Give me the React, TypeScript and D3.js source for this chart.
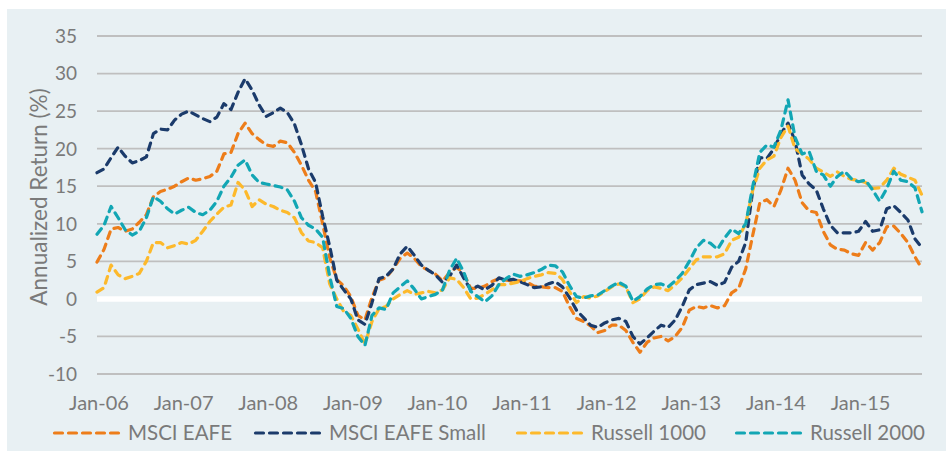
import React from 'react';
import * as d3 from 'd3';

// Month index 0 = Jan-06 ... 117 = Oct-15
const tickLabels = ['Jan-06', 'Jan-07', 'Jan-08', 'Jan-09', 'Jan-10', 'Jan-11', 'Jan-12', 'Jan-13', 'Jan-14', 'Jan-15'];
const yTicks = [-10, -5, 0, 5, 10, 15, 20, 25, 30, 35];

const msciEafe = [
  4.9, 6.6, 9.3, 9.5, 9.0, 9.3, 10.2, 11.2, 13.6, 14.3, 14.6, 15.0,
  15.6, 16.1, 15.8, 16.0, 16.3, 17.0, 19.3, 19.5, 22.0, 23.4, 22.0, 21.2,
  20.5, 20.3, 21.0, 20.8, 19.5, 17.8, 15.8, 14.3, 10.0, 5.5, 2.6, 1.7,
  0.3, -2.2, -2.8, 0.2, 2.5, 2.8, 4.0, 5.4, 6.1, 5.4, 4.3, 3.8,
  3.3, 2.4, 3.5, 4.2, 3.4, 1.4, 1.4, 1.7, 2.3, 2.7, 2.5, 2.4,
  2.4, 2.2, 1.7, 1.6, 1.5, 1.5, 1.0, -1.0, -2.6, -3.0, -3.6, -4.5,
  -4.2, -3.5, -3.5, -4.2, -5.8, -7.1, -5.8, -5.2, -5.0, -5.6, -5.0, -3.8,
  -1.5, -1.0, -1.2, -0.9, -1.2, -0.9, 0.8, 1.4, 4.0, 8.5, 12.8, 13.2,
  12.3, 14.5, 17.4, 15.8, 12.8, 11.7, 11.5, 9.0, 7.2, 6.6, 6.5, 6.0,
  5.8, 7.5, 6.5, 7.5, 9.6, 9.7, 8.7, 7.5, 5.6, 4.0,
];

const msciEafeSmall = [
  16.8, 17.3, 18.8, 20.2, 19.0, 18.1, 18.4, 18.9, 22.0, 22.6, 22.5, 23.8,
  24.6, 25.0, 24.5, 24.0, 23.6, 24.2, 26.0, 25.2, 27.5, 29.3, 27.8, 25.8,
  24.3, 24.8, 25.4, 24.8, 23.3, 20.5, 17.3, 15.5, 11.0, 7.0, 2.5, 1.2,
  0.0, -2.8, -3.4, -0.5, 2.7, 3.0, 4.0, 6.0, 7.0, 5.8, 4.5, 3.8,
  3.2, 2.2, 3.0, 4.5, 2.8, 1.2, 1.7, 1.2, 1.8, 2.8, 2.5, 2.6,
  2.3, 1.9, 1.5, 1.6, 2.0, 2.3, 1.6, 0.2, -1.5, -2.5, -3.5, -3.8,
  -3.2, -2.8, -2.6, -3.0, -5.0, -6.0, -5.2, -4.3, -3.5, -3.8, -2.8, -1.0,
  1.2, 1.9, 2.1, 2.3, 1.8, 2.2, 4.2, 5.0, 7.5, 14.5, 18.8, 18.7,
  20.0, 22.0, 23.4, 21.0, 16.5, 15.3, 14.5, 12.0, 9.8, 8.8, 8.8, 8.8,
  9.0, 10.3, 9.0, 9.2, 12.0, 12.4, 11.5, 10.5, 8.0, 6.8,
];

const russell1000 = [
  0.9, 1.5, 4.5, 3.2, 2.7, 3.0, 3.4, 5.0, 7.5, 7.5, 6.8, 7.1,
  7.5, 7.3, 7.8, 9.0, 10.3, 11.3, 12.2, 12.5, 15.5, 14.5, 12.3, 13.2,
  12.6, 12.3, 11.8, 11.5, 10.8, 8.8, 7.7, 7.5, 6.8, 2.0, 0.0, -1.7,
  -2.2, -4.0, -6.0, -3.0, -1.3, -1.0, 0.0, 0.6, 1.1, 0.6, 0.8, 1.0,
  0.8, 1.2, 2.8, 2.6, 1.5, 0.0, 0.1, 0.6, 1.2, 1.9, 1.9, 2.1,
  2.3, 2.7, 3.0, 3.2, 3.5, 3.4, 2.6, 1.0, -0.5, 0.3, 0.1, 0.4,
  1.0, 1.6, 2.0, 1.6, -0.5, 0.0, 1.1, 1.6, 1.4, 1.1, 1.9, 2.8,
  4.0, 5.2, 5.6, 5.6, 5.6, 6.0, 7.8, 8.2, 10.0, 14.5, 17.4, 18.5,
  19.0, 21.5, 23.0, 20.0, 19.3, 18.6, 17.4, 16.9, 16.3, 16.9, 16.3, 15.9,
  15.8, 15.5, 14.7, 14.8, 15.8, 17.4, 16.6, 16.2, 15.8, 13.8,
];

const russell2000 = [
  8.6, 9.8, 12.3, 10.8, 9.2, 8.5, 9.0, 10.8, 13.6, 13.0, 12.0, 11.3,
  11.8, 12.2, 11.5, 11.2, 11.8, 13.0, 15.0, 16.2, 17.8, 18.5, 16.5, 15.5,
  15.3, 15.1, 14.9, 14.5, 13.0, 10.8, 9.8, 9.3, 8.2, 3.0, -1.0, -1.3,
  -2.6, -5.0, -6.2, -2.2, -1.2, -1.4, 0.8, 1.6, 2.4, 1.3, 0.0, 0.3,
  0.6, 1.2, 3.8, 5.4, 3.6, 1.0, 0.3, -0.4, 0.4, 1.9, 2.7, 3.3,
  3.0, 3.2, 3.5, 3.9, 4.5, 4.4, 3.6, 1.8, 0.3, 0.1, 0.4, 0.5,
  1.1, 1.7, 2.2, 1.7, -0.3, 0.3, 1.3, 1.9, 2.0, 1.6, 2.4, 3.4,
  5.0, 6.8, 7.8, 7.4, 6.6, 8.1, 9.3, 8.7, 10.0, 15.0, 19.5, 20.5,
  20.2, 22.5, 26.5, 21.5, 19.3, 19.6, 17.0, 16.5, 15.0, 16.3, 17.0, 16.0,
  15.6, 15.8, 14.5, 13.0, 14.7, 17.0, 15.8, 15.6, 14.8, 11.6,
];

const seriesNames = ['MSCI EAFE', 'MSCI EAFE Small', 'Russell 1000', 'Russell 2000'];
const seriesColors = ['#ED7D1A', '#1B3B6B', '#FDB92B', '#12A6B4'];
const seriesValues = [msciEafe, msciEafeSmall, russell1000, russell2000];

const W = 946;
const H = 451;
const FONT = 'Lato, "Open Sans", sans-serif';
const TEXT = '#7a7a7a';

export default function App() {
  const x = d3.scaleLinear().domain([0, msciEafe.length - 1]).range([97, 922]);
  const y = d3.scaleLinear().domain([-10, 35]).range([374, 36]);
  const line = d3
    .line<number>()
    .x((_, i) => x(i))
    .y((d) => y(d));

  const legendX = [53, 254, 516, 735];
  const legendLen = 70;

  return (
    <svg
      width={W}
      height={H}
      style={{ position: 'absolute', left: 0, top: 0, display: 'block' }}
      fontFamily={FONT}
    >
      <rect x={0} y={0} width={W} height={H} fill="#ffffff" />
      <rect x={7} y={9} width={W - 7} height={H - 9} fill="#E8F0F3" />
      {yTicks.map((t) => (
        <g key={t}>
          {t !== 0 && (
            <line x1={97} x2={922} y1={y(t)} y2={y(t)} stroke="#BFBFBF" strokeWidth={1.8} />
          )}
          <text x={77} y={y(t)} dy="0.36em" textAnchor="end" fontSize={19} fill={TEXT}>
            {t}
          </text>
        </g>
      ))}
      <line x1={97} x2={922} y1={y(0)} y2={y(0)} stroke="#ffffff" strokeWidth={5.5} />
      {tickLabels.map((lab, i) => (
        <text key={lab} x={x(i * 12) + 2} y={409.5} textAnchor="middle" fontSize={20} fill={TEXT}>
          {lab}
        </text>
      ))}
      <text
        transform="translate(47, 197) rotate(-90)"
        textAnchor="middle"
        fontSize={22.5}
        fill={TEXT}
      >
        Annualized Return (%)
      </text>
      {seriesValues.map((vals, k) => (
        <path
          key={seriesNames[k]}
          d={line(vals) || ''}
          fill="none"
          stroke={seriesColors[k]}
          strokeWidth={3.2}
          strokeDasharray="7 6"
          strokeLinecap="round"
          strokeLinejoin="round"
        />
      ))}
      {seriesNames.map((name, k) => (
        <g key={name}>
          <line
            x1={legendX[k] + 1.5}
            x2={legendX[k] + legendLen - 1.5}
            y1={433}
            y2={433}
            stroke={seriesColors[k]}
            strokeWidth={3.2}
            strokeDasharray="8 6"
            strokeLinecap="round"
          />
          <text x={legendX[k] + legendLen + 5} y={433} dy="0.36em" fontSize={20.5} fill={TEXT}>
            {name}
          </text>
        </g>
      ))}
    </svg>
  );
}
